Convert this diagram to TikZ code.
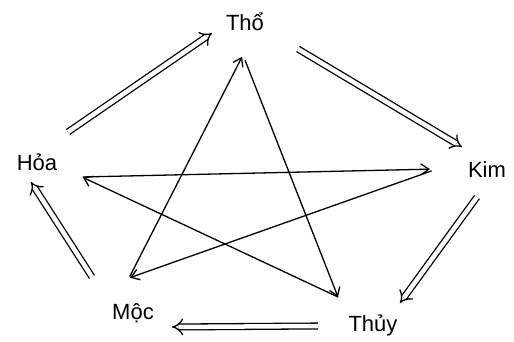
\documentclass[tikz,border=0pt]{standalone}
\usepackage{fontspec}
\setmainfont{Liberation Sans}
\usetikzlibrary{arrows.meta}
\begin{document}
\begin{tikzpicture}[font=\fontsize{22}{26}\selectfont, line join=round, line cap=round, >={Straight Barb[length=8pt,width=11pt]}, x=1pt, y=1pt]
	\tikzset{sinh/.style={double, double distance=4.5pt, line width=1.3pt, line cap=butt, -{Implies[length=9pt]}},
		khac/.style={line width=1.3pt, ->}}
	\useasboundingbox (0,0) rectangle (514,342);
	% five elements
	\node (Tho) at (245,320) {Thổ};
	\node (Kim) at (487,172) {Kim};
	\node (Thuy) at (373,17) {Thủy};
	\node (Moc) at (133,29) {Mộc};
	\node (Hoa) at (37,180) {Hỏa};
	% star vertices
	\coordinate (tho) at (243,287);
	\coordinate (kim) at (437,173);
	\coordinate (thuy) at (338,45);
	\coordinate (moc) at (129,64);
	\coordinate (hoa) at (82,165);
	% ends of the outer ring
	\coordinate (hoaA) at (68,210); \coordinate (thoA) at (212,309);
	\coordinate (thoB) at (298,293); \coordinate (kimB) at (462,195);
	\coordinate (kimC) at (477,145); \coordinate (thuyC) at (400,39);
	\coordinate (thuyD) at (318,16); \coordinate (mocD) at (172,15);
	\coordinate (mocE) at (92,65); \coordinate (hoaE) at (31,160);
	\foreach \a/\b in {hoaA/thoA, thoB/kimB, kimC/thuyC, thuyD/mocD, mocE/hoaE}
		\draw[sinh] (\a) -- (\b);
	% inner star
	\foreach \a/\b/\s/\t in {moc/tho/2/2, tho/thuy/6/0, thuy/hoa/0/1, hoa/kim/1/7, kim/moc/6/1}
		\draw[khac, shorten <=\s pt, shorten >=\t pt] (\a) -- (\b);
\end{tikzpicture}
\end{document}
